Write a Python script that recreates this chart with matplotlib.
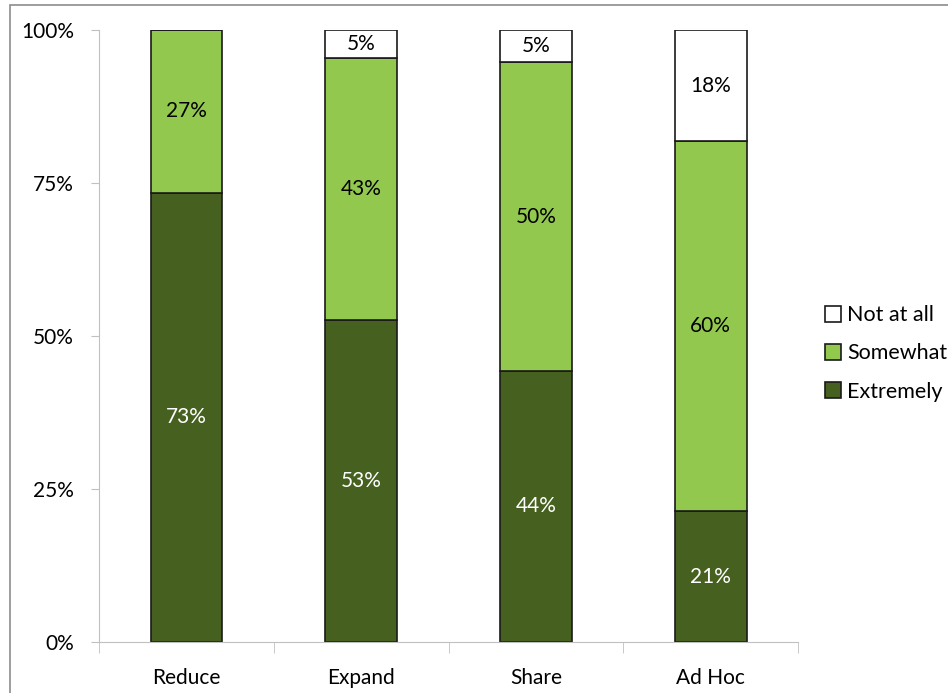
import matplotlib.pyplot as plt
import numpy as np
from matplotlib.patches import Rectangle
from matplotlib.ticker import FixedLocator, PercentFormatter

plt.rcParams['font.family'] = ['Lato', 'DejaVu Sans']

categories = ["Reduce", "Expand", "Share", "Ad Hoc"]
series_names = ["Extremely", "Somewhat", "Not at all"]
extremely = [73.4, 52.6, 44.3, 21.4]
somewhat = [26.6, 42.8, 50.4, 60.4]
not_at_all = [0.0, 4.6, 5.3, 18.2]
y_ticks = [0, 25, 50, 75, 100]

colors = ["#46601f", "#93c84f", "#ffffff"]
label_colors = ["white", "black", "black"]

fig = plt.figure(figsize=(9.48, 6.93), dpi=100)
ax = fig.add_axes([0.1044, 0.0736, 0.7376, 0.8831])

x = np.arange(len(categories))
bottom = np.zeros(len(categories))
handles = []
for name, vals, col, lcol in zip(series_names, [extremely, somewhat, not_at_all], colors, label_colors):
    vals = np.array(vals)
    bars = ax.bar(x, vals, bottom=bottom, width=0.41, color=col, edgecolor="#1a1a1a",
                  linewidth=1.2, label=name)
    handles.append(bars)
    for xi, v, b in zip(x, vals, bottom):
        if v > 0:
            ax.text(xi, b + v / 2, "%d%%" % round(v), ha="center", va="center",
                    fontsize=15, color=lcol)
    bottom += vals

ax.set_xlim(-0.5, len(categories) - 0.5)
ax.set_ylim(0, 100)
ax.yaxis.set_major_locator(FixedLocator(y_ticks))
ax.yaxis.set_major_formatter(PercentFormatter(decimals=0))
ax.set_xticks(x)
ax.set_xticklabels(categories)
ax.xaxis.set_minor_locator(FixedLocator(np.arange(len(categories) + 1) - 0.5))
ax.tick_params(axis="x", which="major", length=0, pad=19, labelsize=15)
ax.tick_params(axis="x", which="minor", length=8, color="#c0c0c0")
ax.tick_params(axis="y", length=6, color="#c0c0c0", pad=12, labelsize=15)
for s in ["top", "right"]:
    ax.spines[s].set_visible(False)
for s in ["left", "bottom"]:
    ax.spines[s].set_color("#c0c0c0")

leg = fig.legend(handles[::-1], series_names[::-1], loc="center left",
                 bbox_to_anchor=(0.861, 0.49), frameon=False, fontsize=15.5,
                 handlelength=0.75, handleheight=0.75, handletextpad=0.3,
                 labelspacing=0.85, borderaxespad=0)

fig.patches.append(Rectangle((0.011, -0.01), 1.0, 1.003, transform=fig.transFigure,
                             fill=False, edgecolor="#8c8c8c", linewidth=1.2))

fig.savefig("out.png", dpi=100)
